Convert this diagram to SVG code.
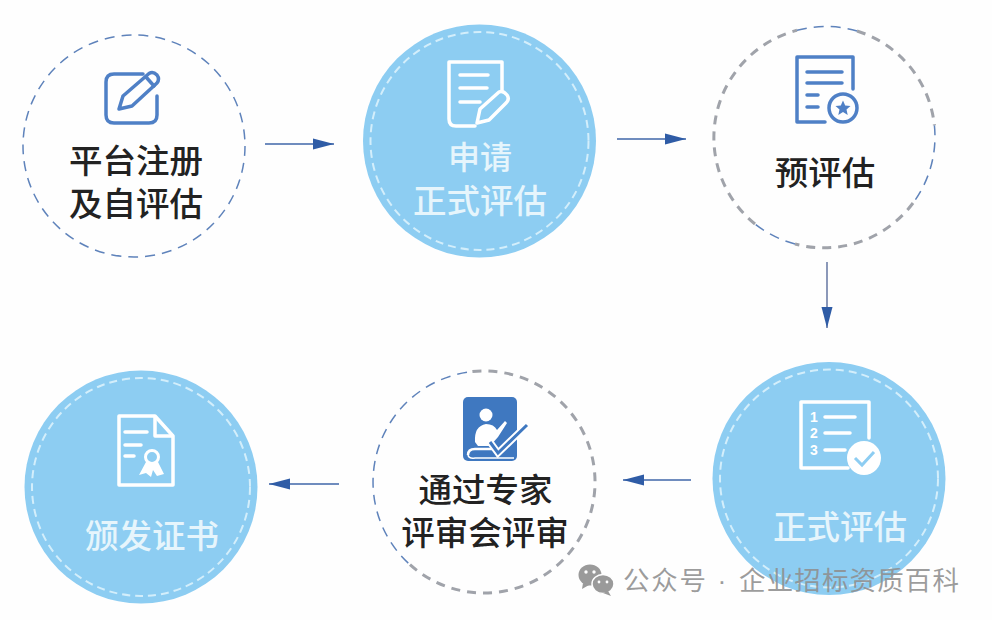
<svg xmlns="http://www.w3.org/2000/svg" width="992" height="620" viewBox="0 0 992 620">
<defs>
<style>
.t{font-family:"Noto Sans CJK SC","Noto Sans",sans-serif;font-size:33.5px;text-anchor:middle}
.d{fill:#222;font-weight:500}
.w{fill:#e6f5fc;font-weight:500}
.disc{fill:#8dcdf2}
.st{fill:none;stroke:#d3eefb;stroke-width:2;stroke-dasharray:8 5}
.bd{fill:none;stroke:#5f83bb;stroke-width:1.5;stroke-dasharray:10 7}
.gd{fill:none;stroke:#a0a3aa;stroke-width:3;stroke-dasharray:9 7}
.ib{fill:none;stroke:#4f80c6;stroke-width:3.5;stroke-linecap:round;stroke-linejoin:round}
.iw{fill:none;stroke:#fff;stroke-width:3.500;stroke-linecap:round;stroke-linejoin:round}
.c{fill:none;stroke:#3f66a8;stroke-width:1.6}
.wm{font-family:"Noto Sans CJK SC","Noto Sans",sans-serif;font-size:26.5px;fill:#8f8f8f;fill-opacity:.88}
</style>
<marker id="a" markerUnits="userSpaceOnUse" markerWidth="22" markerHeight="14" refX="21" refY="7" orient="auto"><path d="M0 1.500L21 7L0 12.500Z" fill="#2f5ca6"/></marker>
</defs>
<rect width="992" height="620" fill="#fefefe"/>
<g id="connectors">
<path class="c" d="M265 144H334" marker-end="url(#a)"/>
<path class="c" d="M617 139H686" marker-end="url(#a)"/>
<path class="c" d="M827 262V328" marker-end="url(#a)" style="stroke:#6f7fa8"/>
<path class="c" d="M691 480H623" marker-end="url(#a)"/>
<path class="c" d="M339 484H269" marker-end="url(#a)"/>
</g>
<g id="node1">
<circle class="bd" cx="134" cy="146" r="111"/>
<path class="ib" d="M143 74H114Q106 74 106 82V115Q106 123 114 123H149Q157 123 157 115V96"/>
<path class="ib" d="M119 109L123 96L149 73.500Q153 71 157 75Q160 79 157 83L132 106Z" stroke-width="3"/>
<path class="ib" d="M146 77L154 86" stroke-width="3"/>
<text class="t d"><tspan x="136" y="173">平台注册</tspan><tspan x="136" y="216">及自评估</tspan></text>
</g>
<g id="node2">
<circle class="disc" cx="479.500" cy="141" r="116.500"/>
<circle class="st" cx="479.500" cy="141" r="109"/>
<path class="iw" d="M475 126H456Q449 126 449 119V62H502V90"/>
<path class="iw" d="M460 75H488M460 88H487M460 102H480"/>
<path class="iw" d="M477 123L480 109L499 92Q503 90 507 95Q510 99 506 103L489 120Z"/>
<text class="t w"><tspan x="480" y="169" style="font-size:32px">申请</tspan><tspan x="480" y="213">正式评估</tspan></text>
</g>
<g id="node3">
<path class="gd" d="M857 31A111 111 0 0 1 934.400 125.400"/>
<path class="bd" d="M934.400 125.400A111 111 0 0 1 913 203"/>
<path class="gd" d="M913 203A111 111 0 0 1 795 244"/>
<path class="bd" d="M795 244A111 111 0 0 1 755 224"/>
<path class="gd" d="M755 224A111 111 0 0 1 797 30.300"/>
<path class="bd" d="M797 30.300A111 111 0 0 1 857 31"/>
<path class="ib" d="M825 122H797V57H853V89" stroke-linecap="butt"/>
<path class="ib" d="M807 72H842M807 83H842M807 95H818M807 107H818"/>
<circle class="ib" cx="843" cy="108" r="14"/>
<path d="M843 100.500L845.200 105.500L850.500 106L846.500 109.500L847.700 115L843 112L838.300 115L839.500 109.500L835.500 106L840.800 105.500Z" fill="#4f80c6"/>
<text class="t d" x="825" y="185">预评估</text>
</g>
<g id="node4">
<circle class="disc" cx="829" cy="478.500" r="116.500"/>
<circle class="st" cx="829" cy="478.500" r="109"/>
<path class="iw" d="M848 468H801V402H869V438"/>
<path class="iw" d="M825 417H855M825 433H850M825 450H845" stroke-width="3"/>
<text x="814" y="422" font-family="Liberation Sans,sans-serif" font-size="14" font-weight="700" fill="#fff" text-anchor="middle">1</text>
<text x="814" y="438" font-family="Liberation Sans,sans-serif" font-size="14" font-weight="700" fill="#fff" text-anchor="middle">2</text>
<text x="814" y="455" font-family="Liberation Sans,sans-serif" font-size="14" font-weight="700" fill="#fff" text-anchor="middle">3</text>
<circle cx="864" cy="458" r="17" fill="#fff"/>
<path d="M855 458L862 465L874 452" fill="none" stroke="#8dcdf2" stroke-width="3"/>
<text class="t w" x="840" y="539">正式评估</text>
</g>
<g id="node5">
<path class="bd" d="M467 372.300A111 111 0 0 0 410 564.700"/>
<path class="gd" d="M410 564.700A111 111 0 1 0 467 372.300"/>
<rect x="463" y="397" width="54" height="64" rx="5" fill="#3f78c0"/>
<circle cx="486" cy="415" r="6.500" fill="#fff"/>
<path d="M475 442Q474 426 486 424Q494 424 497 430L505 421L507 423L498 437L490 446H478Z" fill="#fff"/>
<path d="M468 455Q468 449 475 449H495" fill="none" stroke="#fff" stroke-width="2.500"/>
<path d="M468 455Q469 459 475 458H514" fill="none" stroke="#fff" stroke-width="1.500"/>
<path d="M490 442L498 453L527 425" fill="none" stroke="#fff" stroke-width="7"/>
<path d="M490 442L498 453L527 425" fill="none" stroke="#3f78c0" stroke-width="3"/>
<text class="t d"><tspan x="485.500" y="502">通过专家</tspan><tspan x="485" y="545">评审会评审</tspan></text>
</g>
<g id="node6">
<circle class="disc" cx="141" cy="487" r="116.500"/>
<circle class="st" cx="141" cy="487" r="109"/>
<path class="iw" d="M119 416H155L173 436V485H119Z"/>
<path class="iw" d="M155 417V436H172" stroke-width="2.500"/>
<path class="iw" d="M125 432H147M125 445H141M125 456H134" stroke-width="2.500"/>
<circle cx="152" cy="457" r="6.500" fill="none" stroke="#fff" stroke-width="3"/>
<path d="M146 462L139 475L146 473L151 477L153 470L157 476L164 474L158 462Z" fill="#fff"/>
<text class="t w" x="152" y="548">颁发证书</text>
</g>
<g id="watermark">
<ellipse cx="590" cy="575" rx="11.500" ry="10.500" fill="#9a9a9a"/>
<path d="M583 583L582 589L589 585Z" fill="#9a9a9a"/>
<ellipse cx="603" cy="584" rx="11" ry="9.500" fill="#9a9a9a" stroke="#fefefe" stroke-width="1.500"/>
<path d="M608 591L611 596L603 593Z" fill="#9a9a9a"/>
<circle cx="586" cy="572" r="1.700" fill="#fefefe"/><circle cx="594" cy="572" r="1.700" fill="#fefefe"/>
<circle cx="599" cy="582" r="1.400" fill="#fefefe"/><circle cx="607" cy="582" r="1.400" fill="#fefefe"/>
<text class="wm" x="623" y="590" textLength="83">公众号</text>
<text class="wm" x="722" y="590" text-anchor="middle" style="font-family:'Liberation Sans',sans-serif">·</text>
<text class="wm" x="739" y="590" textLength="220">企业招标资质百科</text>
</g>
</svg>
